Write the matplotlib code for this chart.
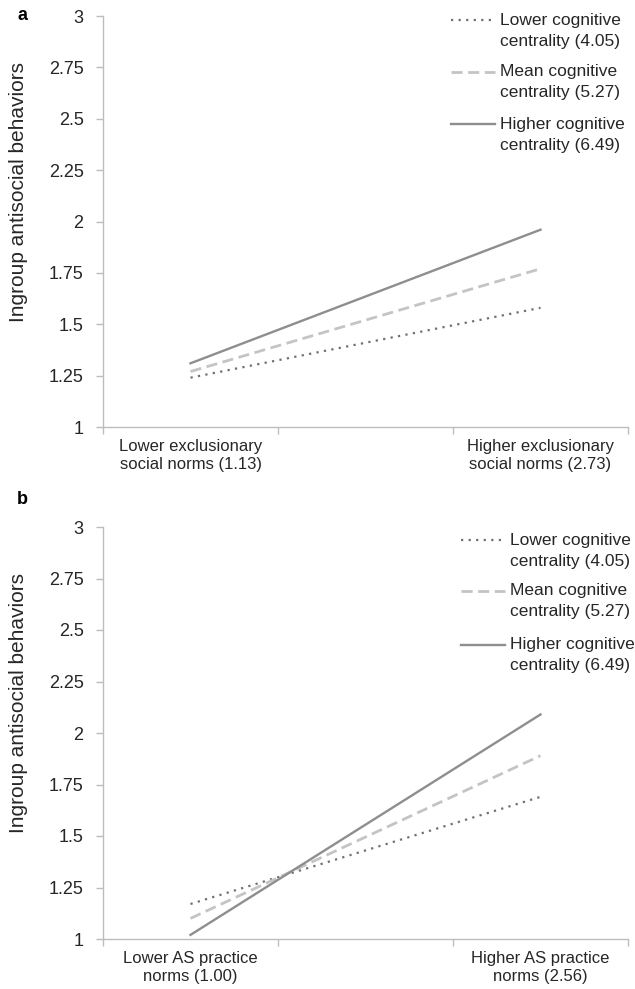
import matplotlib.pyplot as plt
from matplotlib.lines import Line2D

plt.rcParams['font.family'] = ['Liberation Sans', 'DejaVu Sans']

# Simple slopes
x_pos = [0.5, 2.5]
series_names = ['Lower cognitive\ncentrality (4.05)',
                'Mean cognitive\ncentrality (5.27)',
                'Higher cognitive\ncentrality (6.49)']

a_xlabels = ['Lower exclusionary\nsocial norms (1.13)', 'Higher exclusionary\nsocial norms (2.73)']
a_low = [1.24, 1.58]
a_mean = [1.27, 1.77]
a_high = [1.31, 1.96]

b_xlabels = ['Lower AS practice\nnorms (1.00)', 'Higher AS practice\nnorms (2.56)']
b_low = [1.17, 1.69]
b_mean = [1.10, 1.89]
b_high = [1.02, 2.09]

yticks = [1, 1.25, 1.5, 1.75, 2, 2.25, 2.5, 2.75, 3]
ytick_labels = ['1', '1.25', '1.5', '1.75', '2', '2.25', '2.5', '2.75', '3']

styles = [dict(color='#707070', lw=1.6, ls=(0, (1, 2.4))),
          dict(color='#c4c4c4', lw=2.0, ls=(0, (4, 2))),
          dict(color='#8e8e8e', lw=1.7, ls='-')]

axis_grey = '#bdbdbd'
text_col = '#262626'

W, H = 635, 989
fig = plt.figure(figsize=(W / 100, H / 100), dpi=100)


def make_panel(top, bottom, xlabels, data, key_x, key_rows):
    ax = fig.add_axes([103 / W, 1 - bottom / H, 525 / W, (bottom - top) / H])
    for vals, st in zip(data, styles):
        ax.plot(x_pos, vals, **st)
    ax.set_xlim(0, 3)
    ax.set_ylim(1, 3)
    ax.set_yticks(yticks)
    ax.set_yticklabels(ytick_labels)
    ax.set_xticks([0, 1, 2, 3])
    ax.set_xticklabels([])
    ax.set_xticks(x_pos, minor=True)
    ax.set_xticklabels(xlabels, minor=True)
    ax.tick_params(axis='x', which='minor', length=0, pad=9,
                   labelsize=12, labelcolor=text_col)
    ax.tick_params(axis='both', which='major', length=5, color=axis_grey,
                   width=1, labelsize=13, labelcolor=text_col)
    ax.tick_params(axis='y', pad=9)
    for s in ['top', 'right']:
        ax.spines[s].set_visible(False)
    for s in ['left', 'bottom']:
        ax.spines[s].set_color(axis_grey)
        ax.spines[s].set_linewidth(1)
    ax.set_ylabel('Ingroup antisocial behaviors', fontsize=15, color=text_col)
    ax.yaxis.set_label_coords(-0.142, 0.572)

    # key drawn beside the top-right corner
    for name, st, ry in zip(series_names, styles, key_rows):
        ax.add_line(Line2D([key_x - 0.093, key_x - 0.01], [ry, ry],
                           transform=ax.transAxes, clip_on=False, **st))
        first, second = name.split('\n')
        ax.text(key_x, ry, first, transform=ax.transAxes, fontsize=12.5,
                color=text_col, va='center', ha='left')
        ax.text(key_x, ry - 21 / (bottom - top), second, transform=ax.transAxes,
                fontsize=12.5, color=text_col, va='center', ha='left')
    return ax


make_panel(16, 427, a_xlabels, [a_low, a_mean, a_high],
           0.756, [0.990, 0.864, 0.737])
make_panel(527, 939, b_xlabels, [b_low, b_mean, b_high],
           0.775, [0.968, 0.845, 0.714])

fig.text(22 / W, 1 - 16 / H, 'a', fontsize=13, fontweight='bold', va='center', ha='center')
fig.text(22 / W, 1 - 500 / H, 'b', fontsize=13, fontweight='bold', va='center', ha='center')

fig.savefig('out.png', dpi=100)
